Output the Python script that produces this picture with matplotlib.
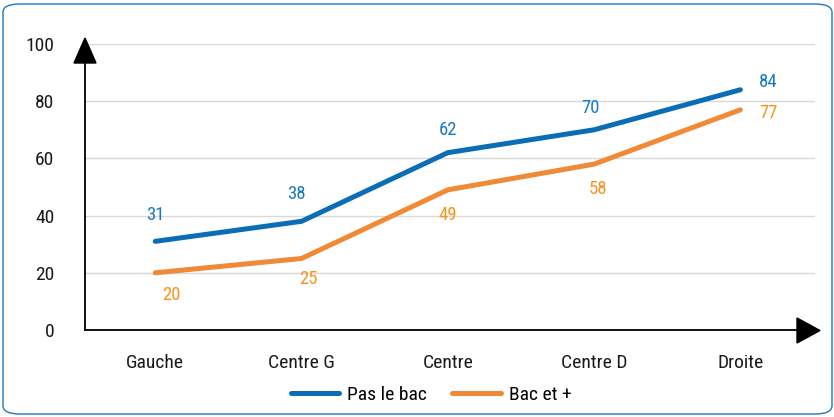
import matplotlib.pyplot as plt
from matplotlib.patches import Polygon, FancyBboxPatch
from matplotlib.lines import Line2D

plt.rcParams['font.family'] = ['Roboto Condensed', 'Liberation Sans Narrow', 'Roboto', 'DejaVu Sans']

categories = ["Gauche", "Centre G", "Centre", "Centre D", "Droite"]
pas_le_bac = [31, 38, 62, 70, 84]
bac_et_plus = [20, 25, 49, 58, 77]
yticks = [0, 20, 40, 60, 80, 100]

# label offsets in pixels (dx, dy)
blue_off = [(0, 26), (-5, 27), (0, 23), (-4, 22), (28, 8)]
orange_off = [(16, -22), (7, -21), (0, -25), (4, -25), (28, -3)]

BLUE = "#0b6db6"
ORANGE = "#f08a36"
BLUE_TXT = "#1a78c2"
ORANGE_TXT = "#f7941d"

W, H = 834, 417
fig = plt.figure(figsize=(W / 100, H / 100), dpi=100)

def px(x, y):
    return (x / W, 1 - y / H)

# ── rounded frame ──
frame = FancyBboxPatch(px(3, 414), (829) / W, (410) / H,
                       boxstyle="round,pad=0,rounding_size=0.02",
                       transform=fig.transFigure, fill=False,
                       edgecolor="#1a78c2", linewidth=1.0)
fig.patches.append(frame)

left, bottom = px(85, 330)
right, top = px(815, 44)
ax = fig.add_axes([left, bottom, right - left, top - bottom])

x = list(range(len(categories)))
ax.plot(x, pas_le_bac, color=BLUE, lw=3.6, solid_capstyle='round', zorder=3)
ax.plot(x, bac_et_plus, color=ORANGE, lw=3.6, solid_capstyle='round', zorder=3)

for xi, v, (dx, dy) in zip(x, pas_le_bac, blue_off):
    ax.annotate(str(v), (xi, v), xytext=(dx, dy), textcoords='offset pixels',
                ha='center', va='center', color=BLUE_TXT, fontsize=13.5)
for xi, v, (dx, dy) in zip(x, bac_et_plus, orange_off):
    ax.annotate(str(v), (xi, v), xytext=(dx, dy), textcoords='offset pixels',
                ha='center', va='center', color=ORANGE_TXT, fontsize=13.5)

ax.set_xlim(-0.48, 4.51)
ax.set_ylim(0, 100)
ax.set_yticks(yticks)
ax.set_xticks(x)
ax.set_xticklabels(categories)
ax.tick_params(length=0, labelsize=14, colors="#1a1a1a")
ax.tick_params(axis='y', pad=22)
ax.tick_params(axis='x', pad=17)
ax.grid(axis='y', color="#d9d9d9", lw=1)
ax.set_axisbelow(True)
for s in ['top', 'right']:
    ax.spines[s].set_visible(False)
ax.spines['left'].set_color('black')
ax.spines['bottom'].set_color('black')
ax.spines['left'].set_linewidth(1.3)
ax.spines['bottom'].set_linewidth(1.3)
ax.spines['bottom'].set_bounds(-0.48, 4.4)

# ── arrow heads ──
up = Polygon([px(74, 63), px(96, 63), px(85, 38)], closed=True,
             transform=fig.transFigure, color='black', zorder=5)
rt = Polygon([px(797, 318), px(797, 343), px(820, 330.5)], closed=True,
             transform=fig.transFigure, color='black', zorder=5)
fig.patches.extend([up, rt])

# ── legend ──
handles = [Line2D([], [], color=BLUE, lw=3.6, solid_capstyle='round'),
           Line2D([], [], color=ORANGE, lw=3.6, solid_capstyle='round')]
fig.legend(handles, ["Pas le bac", "Bac et +"], loc='center',
           bbox_to_anchor=px(431, 395), ncol=2, frameon=False,
           fontsize=14, handlelength=2.5, handletextpad=0.4,
           columnspacing=1.3)

fig.savefig("out.png", dpi=100)
